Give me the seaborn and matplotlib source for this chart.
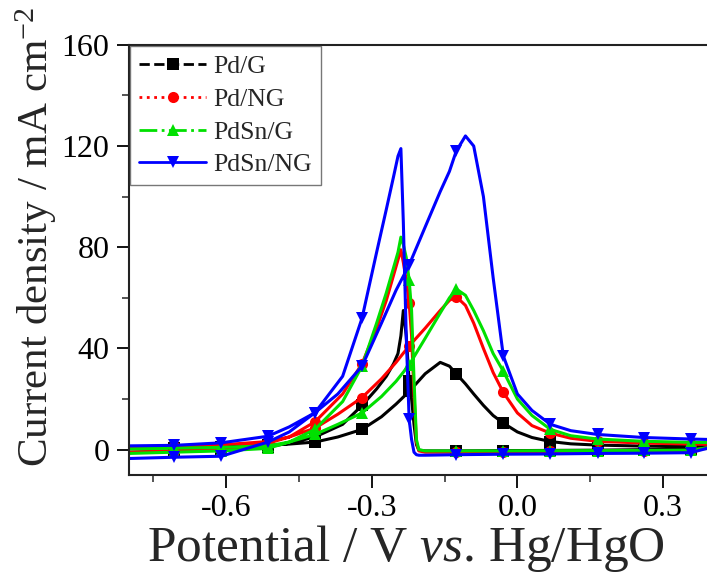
import numpy as np
import pandas as pd
import matplotlib
matplotlib.use("Agg")
import matplotlib.pyplot as plt
import seaborn as sns
from matplotlib.lines import Line2D
from matplotlib.ticker import MultipleLocator

# Potential grids (V vs. Hg/HgO): forward (positive-going) and backward scans
E_fwd = [-0.80, -0.707, -0.61, -0.514, -0.47, -0.417, -0.37, -0.32, -0.28, -0.25,
         -0.223, -0.19, -0.159, -0.14, -0.126, -0.107, -0.09, -0.07, -0.05, -0.029,
         0.0, 0.03, 0.068, 0.11, 0.165, 0.26, 0.357, 0.40]
E_bwd = [0.40, 0.357, 0.26, 0.165, 0.068, -0.029, -0.126, -0.19, -0.203, -0.208,
         -0.213, -0.218, -0.223, -0.229, -0.235, -0.240, -0.246, -0.255, -0.27, -0.29,
         -0.32, -0.36, -0.417, -0.47, -0.514, -0.61, -0.707, -0.80]
marker_E = [-0.707, -0.61, -0.514, -0.417, -0.32, -0.223, -0.126, -0.029,
            0.068, 0.165, 0.26, 0.357]

labels = ["Pd/G", "Pd/NG", "PdSn/G", "PdSn/NG"]

# Current density (mA cm^-2)
PdG_fwd = [0.5, 0.8, 1.2, 1.8, 2.2, 3.0, 5.0, 8.0, 13, 18,
           23, 30, 34.5, 33, 30, 26, 22, 17.5, 13.5, 10.5,
           7, 4.8, 3.2, 2.3, 1.8, 1.4, 1.2, 1.2]
PdG_bwd = [0.5, 0.2, 0.0, -0.2, -0.3, -0.4, -0.5, -0.5, -0.2, 2,
           10, 20, 27, 45, 55, 45, 38, 34, 29, 24,
           17.5, 10, 5, 2.5, 1.2, 0.0, -0.6, -1.0]

PdNG_fwd = [1.0, 1.3, 1.9, 3.2, 5, 8.5, 14, 20.6, 28, 34.5,
            41, 48, 55, 59, 60.5, 57, 50, 40, 30.5, 22.6,
            14.5, 9.5, 6.5, 4.5, 3.3, 2.6, 2.2, 2.1]
PdNG_bwd = [1.0, -0.3, -0.5, -0.6, -0.7, -0.8, -1.0, -1.0, -0.5, 3,
            22, 45, 58, 67, 74, 79, 75, 69, 59, 48,
            34, 22, 11, 5, 2.5, 0.2, -0.5, -1.0]

PdSnG_fwd = [0.3, 0.6, 0.9, 1.5, 3, 6, 10, 14.5, 21, 27,
             33.5, 44, 54, 60, 63.5, 61, 55, 47, 38, 31,
             20, 13.5, 8, 5.5, 4.2, 3.3, 2.9, 2.8]
PdSnG_bwd = [1.0, -0.2, -0.3, -0.4, -0.4, -0.5, -0.5, -0.5, 0.0, 4,
             28, 55, 67, 76, 81, 84, 78, 72, 62, 50,
             33, 19, 8, 3, 0.5, -0.5, -1.0, -1.5]

PdSnNG_fwd = [1.5, 1.7, 2.7, 5.3, 9, 14.6, 22, 33, 50, 63,
              73, 88, 102, 110, 118, 124, 120, 100, 68, 37,
              22, 15.5, 10, 7.5, 6, 4.8, 4.2, 4.0]
PdSnNG_bwd = [1.0, -1.2, -1.4, -1.5, -1.7, -1.8, -2.0, -2.2, -2.2, -2.0,
              -1.0, 4, 12, 45, 90, 119, 116, 108, 95, 78,
              52, 29, 14.6, 7, 3, -2.6, -3.0, -3.5]

colors = ["#000000", "#ff0000", "#00e000", "#0000ff"]
markers = ["s", "o", "^", "v"]
legend_ls = ["--", ":", "-.", "-"]

sns.set_style("ticks")
plt.rcParams["font.family"] = ["Liberation Serif", "DejaVu Serif"]
plt.rcParams["mathtext.fontset"] = "custom"
plt.rcParams["mathtext.rm"] = "Liberation Serif"
plt.rcParams["mathtext.it"] = "Liberation Serif:italic"

fig = plt.figure(figsize=(7.07, 5.75), dpi=100)
ax = fig.add_axes([0.1825, 0.174, 0.824, 0.748])

fwd_all = [PdG_fwd, PdNG_fwd, PdSnG_fwd, PdSnNG_fwd]
bwd_all = [PdG_bwd, PdNG_bwd, PdSnG_bwd, PdSnNG_bwd]
E = E_fwd + E_bwd
idx = [i for i, e in enumerate(E) if any(abs(e - m) < 1e-9 for m in marker_E)]

for lab, f, b, c, m in zip(labels, fwd_all, bwd_all, colors, markers):
    df = pd.DataFrame({"E": E, "I": f + b})
    sns.lineplot(data=df, x="E", y="I", sort=False, estimator=None, color=c,
                 lw=2.2, marker=m, markersize=8, markevery=idx,
                 markeredgewidth=0, ax=ax, legend=False)

ax.set_xlim(-0.8, 0.4)
ax.set_ylim(-10, 160)
ax.xaxis.set_major_locator(MultipleLocator(0.3))
ax.xaxis.set_minor_locator(MultipleLocator(0.15))
ax.yaxis.set_major_locator(MultipleLocator(40))
ax.yaxis.set_minor_locator(MultipleLocator(20))
ax.xaxis.set_major_formatter(matplotlib.ticker.FormatStrFormatter("%.1f"))
ax.tick_params(which="major", direction="out", length=9, width=1.3, pad=5,
               labelsize=23, colors="#000000")
ax.tick_params(which="minor", direction="out", length=5, width=1.1)
ax.spines["right"].set_visible(False)
for s in ["left", "bottom", "top"]:
    ax.spines[s].set_linewidth(1.5)
    ax.spines[s].set_color("#222222")

ax.set_xlabel(r"Potential / V $\mathit{vs}$. Hg/HgO", fontsize=37, labelpad=0)
ax.set_ylabel(r"Current density / mA cm$^{-2}$", fontsize=31)
ax.xaxis.label.set_x(0.476)
ax.yaxis.set_label_coords(-0.12, 0.553)

handles = [Line2D([], [], color=c, ls=ls, lw=2, marker=m, markersize=8, markeredgewidth=0)
           for c, ls, m in zip(colors, legend_ls, markers)]
leg = ax.legend(handles, labels, loc="upper left", bbox_to_anchor=(0.002, 0.997),
                frameon=True, fancybox=False, edgecolor="#555555", fontsize=18.5,
                handlelength=2.6, borderaxespad=0, labelspacing=0.38, handletextpad=0.3,
                borderpad=0.35)
leg.get_frame().set_linewidth(1.0)

fig.savefig("out.png", dpi=100)
